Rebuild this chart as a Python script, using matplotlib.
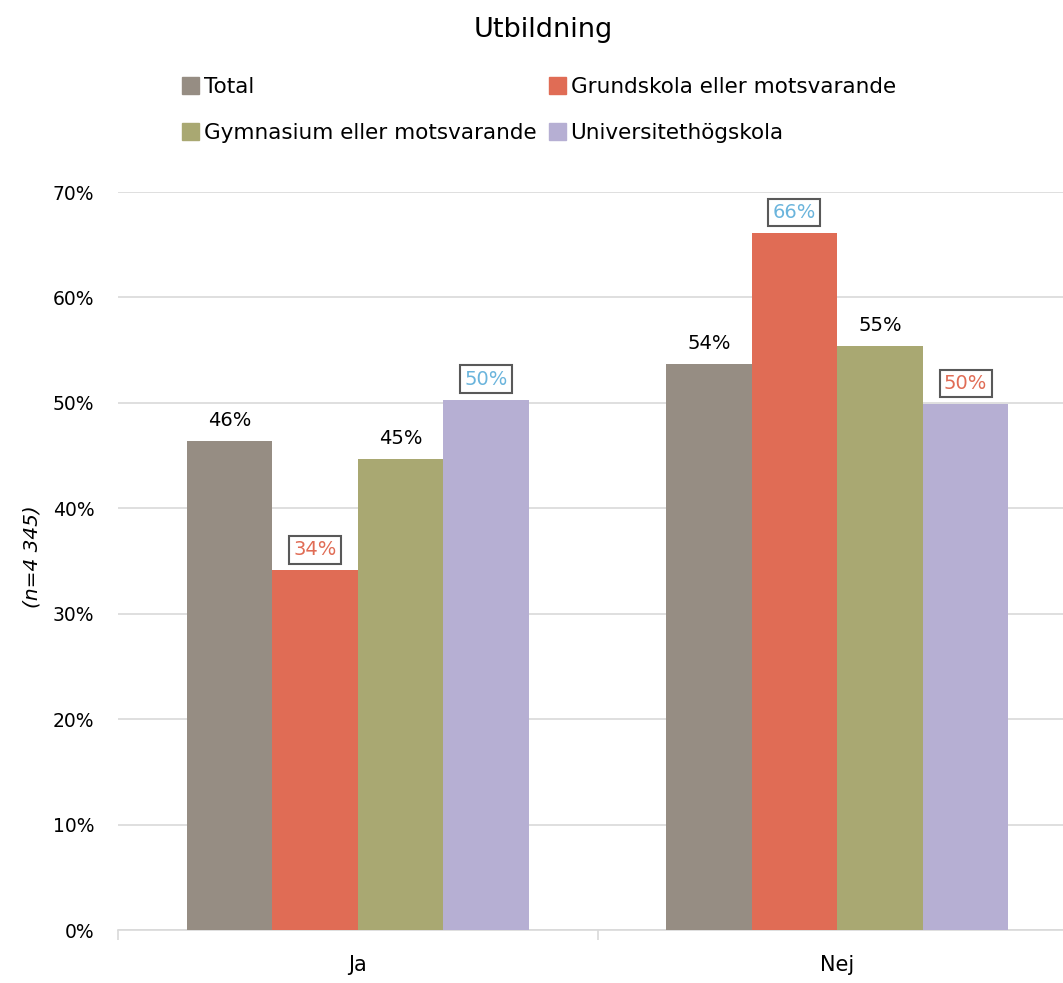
import numpy as np
import matplotlib
matplotlib.use('Agg')
from matplotlib import pyplot as plt
from matplotlib.patches import Patch

categories = ['Ja', 'Nej']
series = ['Total', 'Grundskola eller motsvarande', 'Gymnasium eller motsvarande', 'Universitethögskola']
values = [
    [46.4, 53.7],   # Total
    [34.1, 66.1],   # Grundskola
    [44.7, 55.4],   # Gymnasium
    [50.3, 49.9],   # Universitet
]
labels = [
    ['46%', '54%'],
    ['34%', '66%'],
    ['45%', '55%'],
    ['50%', '50%'],
]
# label colour per bar (None = plain black, no box)
label_colors = [
    [None, None],
    ['#e06c55', '#6ab4dc'],
    [None, None],
    ['#6ab4dc', '#e06c55'],
]
colors = ['#968d83', '#e06c55', '#a9a872', '#b6afd3']

plt.rcParams['font.family'] = ['DejaVu Sans']

fig = plt.figure(figsize=(10.63, 9.83), dpi=100)
# axes from x=118 to 1077 px, y=930 to 192 px
ax = fig.add_axes([118/1063, (983-930)/983, (1077-118)/1063, (930-192)/983])

x = np.arange(len(categories))
w = 0.1785
for i, s in enumerate(series):
    pos = x + (i - 1.5) * w
    ax.bar(pos, values[i], width=w, color=colors[i], label=s, zorder=3)
    for j in range(len(categories)):
        c = label_colors[i][j]
        if c is None:
            ax.annotate(labels[i][j], (pos[j], values[i][j]), xytext=(0, 8),
                        textcoords='offset points', ha='center', va='bottom',
                        fontsize=14, color='black')
        else:
            ax.annotate(labels[i][j], (pos[j], values[i][j]), xytext=(0, 8),
                        textcoords='offset points', ha='center', va='bottom',
                        fontsize=14, color=c,
                        bbox=dict(boxstyle='square,pad=0.22', fc='white', ec='#595959', lw=1.5))

ax.set_ylim(0, 70)
ax.set_xlim(-0.5, 1.5)
ax.set_yticks(np.arange(0, 71, 10))
ax.set_yticklabels([f'{v}%' for v in range(0, 71, 10)], fontsize=13.5)
ax.yaxis.grid(True, color='#d9d9d9', lw=1.2, zorder=0)
ax.set_axisbelow(True)
ax.tick_params(axis='y', length=0, pad=17)

ax.set_xticks(x)
ax.set_xticklabels(categories, fontsize=15)
ax.set_xticks([-0.5, 0.5, 1.5], minor=True)
ax.tick_params(axis='x', which='major', length=0, pad=18)
ax.tick_params(axis='x', which='minor', length=7, color='#d9d9d9', width=1.2)

for side in ['top', 'right', 'left']:
    ax.spines[side].set_visible(False)
ax.spines['bottom'].set_color('#d9d9d9')
ax.spines['bottom'].set_linewidth(1.2)

fig.text(32/1063, 1 - 557/983, '(n=4 345)', rotation=90, fontsize=14.5,
         style='italic', ha='center', va='center')

fig.text(543/1063, 1 - 30/983, 'Utbildning', fontsize=19.5, ha='center', va='center')

handles = [Patch(color=colors[i], label=series[i]) for i in range(len(series))]
order = [0, 2, 1, 3]
fig.legend([handles[k] for k in order], [series[k] for k in order],
           ncol=2, loc='upper left', bbox_to_anchor=(182/1063, 1 - 77/983),
           frameon=False, fontsize=15.5, handlelength=0.8, handleheight=0.8,
           handletextpad=0.2, columnspacing=0.6, labelspacing=1.2,
           borderpad=0, borderaxespad=0)

fig.savefig('out.png', dpi=100)
